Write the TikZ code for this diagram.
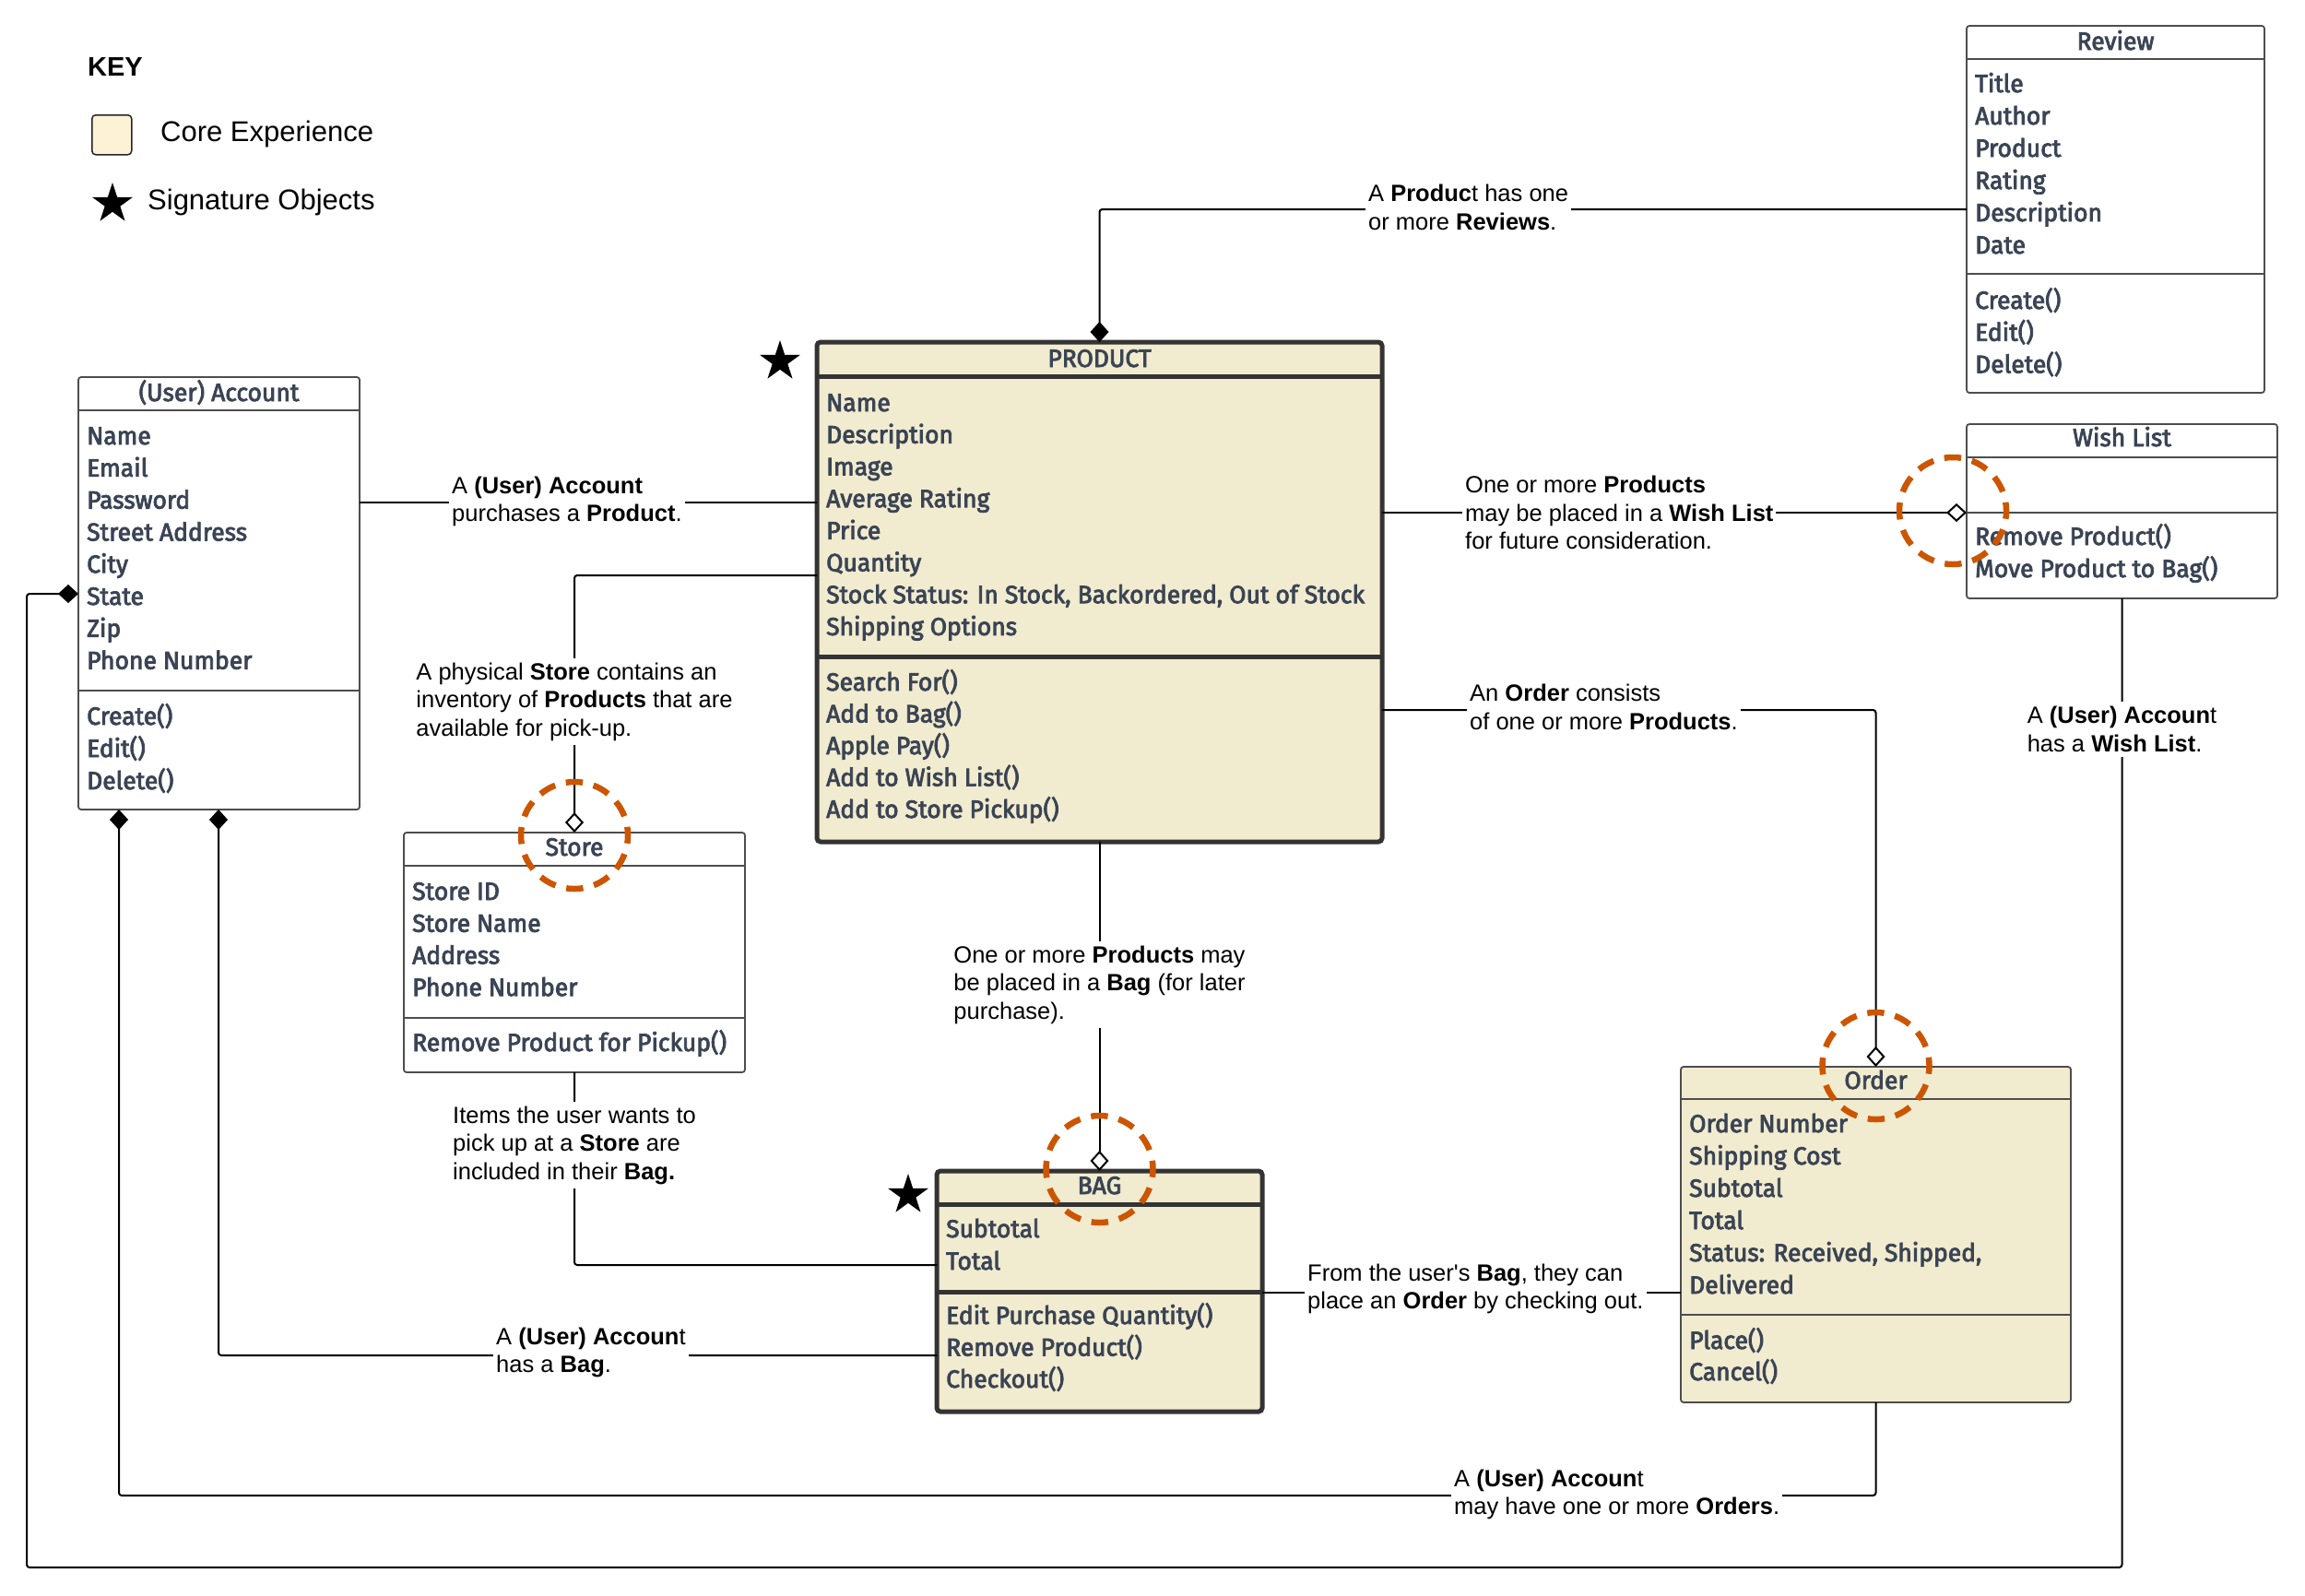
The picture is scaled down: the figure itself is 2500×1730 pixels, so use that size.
\documentclass[tikz,border=0pt]{standalone}
\usepackage{fontspec}
\setmainfont{Liberation Sans}
\newfontfamily\boxfont[FakeStretch=0.98,FakeBold=3]{Fira Sans}
\usetikzlibrary{arrows.meta,shapes.geometric}
\definecolor{cream}{HTML}{F1EBCF}
\definecolor{keycream}{HTML}{FCF2D5}
\definecolor{boxtext}{HTML}{3A4454}
\definecolor{boxline}{HTML}{4D4D4D}
\definecolor{thickline}{HTML}{333333}
\definecolor{hl}{HTML}{CC5500}
\begin{document}
\begin{tikzpicture}[x=1pt,y=-1pt,
  thinbox/.style={draw=boxline,line width=1.8pt,rounded corners=3pt,inner sep=0pt,outer sep=0pt,anchor=north west},
  thickbox/.style={draw=thickline,line width=5pt,fill=cream,rounded corners=4pt,inner sep=0pt,outer sep=0pt,anchor=north west},
  thindiv/.style={draw=boxline,line width=1.8pt},
  thickdiv/.style={draw=thickline,line width=5pt},
  item/.style={font=\boxfont\fontsize{27}{32}\selectfont,text=boxtext,anchor=base west,inner sep=0pt},
  hdr/.style={item,anchor=base},
  lbl/.style={font=\fontsize{25.5}{30.5}\selectfont,align=left,fill=white,inner xsep=3pt,inner ysep=5pt},
  conn/.style={draw=black,line width=2pt,rounded corners=3pt},
  fromfilled/.style={arrows={Diamond[length=22pt,width=20pt]-}},
  toopen/.style={arrows={-Diamond[open,length=22pt,width=20pt,fill=white]}},
  hlc/.style={draw=hl,line width=6.5pt,dash pattern=on 18.4pt off 12pt,dash phase=9.2pt},
  sig/.style={star,star points=5,star point ratio=2.618,fill=black,inner sep=0pt,minimum size=46pt}
]
\useasboundingbox (0,0) rectangle (2500,1730);
\fill[white] (0,0) rectangle (2500,1730);

% ---------- key ----------
\node[font=\bfseries\fontsize{29}{34}\selectfont,anchor=base west,inner sep=0pt] (keyTitle) at (95,82) {KEY};
\node[draw=black!85,fill=keycream,line width=1.5pt,rounded corners=4pt,minimum width=43pt,minimum height=43pt,inner sep=0pt,anchor=north west] (keySq) at (99,124) {};
\node[font=\fontsize{31}{36}\selectfont,anchor=base west,inner sep=0pt] (keyCore) at (174,153) {Core Experience};
\node[sig] (starKey) at (122,221) {};
\node[font=\fontsize{31}{36}\selectfont,anchor=base west,inner sep=0pt] (keySig) at (160,227) {Signature Objects};

% ---------- (User) Account ----------
\node[thinbox,fill=white,minimum width=305pt,minimum height=469pt] (acct) at (85,409) {};
\draw[thindiv] (acct.west |- 0,445) -- (acct.east |- 0,445);
\draw[thindiv] (acct.west |- 0,749) -- (acct.east |- 0,749);
\node[hdr] (acctH) at (237.5,435) {(User) Account};
\foreach \t [count=\i from 0] in {Name,Email,Password,Street Address,City,State,Zip,Phone Number}
  \node[item] (acctA\i) at (94,482+34.8*\i) {\t};
\foreach \t [count=\i from 0] in {Create(),Edit(),Delete()}
  \node[item] (acctM\i) at (94,786+35*\i) {\t};

% ---------- PRODUCT ----------
\node[thickbox,minimum width=613pt,minimum height=542pt] (prod) at (886,371) {};
\draw[thickdiv] (prod.west |- 0,408) -- (prod.east |- 0,408);
\draw[thickdiv] (prod.west |- 0,712) -- (prod.east |- 0,712);
\node[hdr] (prodH) at (1192.5,398) {PRODUCT};
\foreach \t [count=\i from 0] in {Name,Description,Image,Average Rating,Price,Quantity,{Stock Status: In Stock, Backordered, Out of Stock},Shipping Options}
  \node[item] (prodA\i) at (896,446+34.7*\i) {\t};
\foreach \t [count=\i from 0] in {Search For(),Add to Bag(),Apple Pay(),Add to Wish List(),Add to Store Pickup()}
  \node[item] (prodM\i) at (896,749+34.5*\i) {\t};
\node[sig] (starProd) at (846,392) {};

% ---------- Review ----------
\node[thinbox,fill=white,minimum width=323pt,minimum height=398pt] (rev) at (2133,28) {};
\draw[thindiv] (rev.west |- 0,64) -- (rev.east |- 0,64);
\draw[thindiv] (rev.west |- 0,297) -- (rev.east |- 0,297);
\node[hdr] (revH) at (2294.5,54) {Review};
\foreach \t [count=\i from 0] in {Title,Author,Product,Rating,Description,Date}
  \node[item] (revA\i) at (2142,100+35*\i) {\t};
\foreach \t [count=\i from 0] in {Create(),Edit(),Delete()}
  \node[item] (revM\i) at (2142,335+34.7*\i) {\t};

% ---------- Wish List ----------
\node[thinbox,fill=white,minimum width=337pt,minimum height=189pt] (wl) at (2133,460) {};
\draw[thindiv] (wl.west |- 0,496) -- (wl.east |- 0,496);
\draw[thindiv] (wl.west |- 0,556) -- (wl.east |- 0,556);
\node[hdr] (wlH) at (2301.5,484) {Wish List};
\node[item] (wlM0) at (2142,591) {Remove Product()};
\node[item] (wlM1) at (2142,626) {Move Product to Bag()};

% ---------- Store ----------
\node[thinbox,fill=white,minimum width=370pt,minimum height=260pt] (store) at (438,903) {};
\draw[thindiv] (store.west |- 0,939) -- (store.east |- 0,939);
\draw[thindiv] (store.west |- 0,1104) -- (store.east |- 0,1104);
\node[hdr] (storeH) at (623,928) {Store};
\foreach \t [count=\i from 0] in {Store ID,Store Name,Address,Phone Number}
  \node[item] (storeA\i) at (447,976+34.7*\i) {\t};
\node[item] (storeM0) at (447,1140) {Remove Product for Pickup()};

% ---------- BAG ----------
\node[thickbox,minimum width=353pt,minimum height=261pt] (bag) at (1016,1270) {};
\draw[thickdiv] (bag.west |- 0,1306) -- (bag.east |- 0,1306);
\draw[thickdiv] (bag.west |- 0,1401) -- (bag.east |- 0,1401);
\node[hdr] (bagH) at (1192.5,1295) {BAG};
\foreach \t [count=\i from 0] in {Subtotal,Total}
  \node[item] (bagA\i) at (1026,1342+35*\i) {\t};
\foreach \t [count=\i from 0] in {Edit Purchase Quantity(),Remove Product(),Checkout()}
  \node[item] (bagM\i) at (1026,1436+34.5*\i) {\t};
\node[sig] (starBag) at (985,1296) {};

% ---------- Order ----------
\node[thinbox,fill=cream,minimum width=423pt,minimum height=364pt] (order) at (1823,1157) {};
\draw[thindiv] (order.west |- 0,1192) -- (order.east |- 0,1192);
\draw[thindiv] (order.west |- 0,1426) -- (order.east |- 0,1426);
\node[hdr] (orderH) at (2034.5,1181) {Order};
\foreach \t [count=\i from 0] in {Order Number,Shipping Cost,Subtotal,Total,{Status: Received, Shipped,},Delivered}
  \node[item] (orderA\i) at (1832,1228+35*\i) {\t};
\foreach \t [count=\i from 0] in {Place(),Cancel()}
  \node[item] (orderM\i) at (1832,1463+34*\i) {\t};

% ---------- connectors ----------
\draw[conn,fromfilled] (prod.north) |- (rev.west);
\draw[conn] (acct.east |- 0,545) -- (prod.west |- 0,545);
\draw[conn,toopen] (prod.west |- 0,624) -| (store.north);
\draw[conn] (store.south) |- (bag.west |- 0,1372);
\draw[conn,toopen] (prod.south) -- (bag.north);
\draw[conn,toopen] (prod.east |- 0,556) -- (wl.west |- 0,556);
\draw[conn,toopen] (prod.east |- 0,770) -| (order.north);
\draw[conn] (bag.east |- 0,1402) -- (order.west |- 0,1402);
\draw[conn,fromfilled] (acct.south -| 237,0) |- (bag.west |- 0,1470);
\coordinate (ordCorner) at (order.south |- 0,1622);
\draw[conn,fromfilled] (acct.south -| 129,0) |- (ordCorner) -- (order.south);
\coordinate (wlCornerA) at (29,644);
\coordinate (wlCornerB) at (wl.south |- 0,1700);
\draw[conn,fromfilled] (acct.west |- 0,644) -- (wlCornerA) |- (wlCornerB) -- (wl.south);

% ---------- labels ----------
\node[lbl,anchor=west] (lblRev) at (1481,225) {A \textbf{Produc}t has one\\or more \textbf{Reviews}.};
\node[lbl,anchor=west] (lblAP) at (487,544) {A \textbf{(User) Account}\\purchases a \textbf{Product}.};
\node[lbl] (lblStore) at (623,761) {A physical \textbf{Store} contains an\\inventory of \textbf{Products} that are\\available for pick-up.};
\node[lbl] (lblSB) at (623,1242) {Items the user wants to\\pick up at a \textbf{Store} are\\included in their \textbf{Bag.}};
\node[lbl] (lblPB) at (1192.5,1068) {One or more \textbf{Products} may\\be placed in a \textbf{Bag} (for later\\purchase).};
\node[lbl,anchor=west] (lblWL) at (1586,556) {One or more \textbf{Products}\\may be placed in a \textbf{Wish List}\\for future consideration.};
\node[lbl,anchor=west] (lblOrd) at (1591,767) {An \textbf{Order} consists\\of one or more \textbf{Products}.};
\node[lbl,anchor=west] (lblBO) at (1415,1398) {From the user\textquotesingle s \textbf{Bag}, they can\\place an \textbf{Order} by checking out.};
\node[lbl,anchor=west] (lblAB) at (535,1467) {A \textbf{(User) Accoun}t\\has a \textbf{Bag}.};
\node[lbl,anchor=west] (lblAO) at (1574,1621) {A \textbf{(User) Accoun}t\\may have one or more \textbf{Orders}.};
\node[lbl] (lblAW) at (2301.5,791) {A \textbf{(User) Accoun}t\\has a \textbf{Wish List}.};

% ---------- highlight circles ----------
\draw[hlc] (623,906) circle[radius=58pt];
\draw[hlc] (1192.5,1268) circle[radius=58pt];
\draw[hlc] (2034.5,1156) circle[radius=58pt];
\draw[hlc] (2118,554) circle[radius=58pt];
\end{tikzpicture}
\end{document}
